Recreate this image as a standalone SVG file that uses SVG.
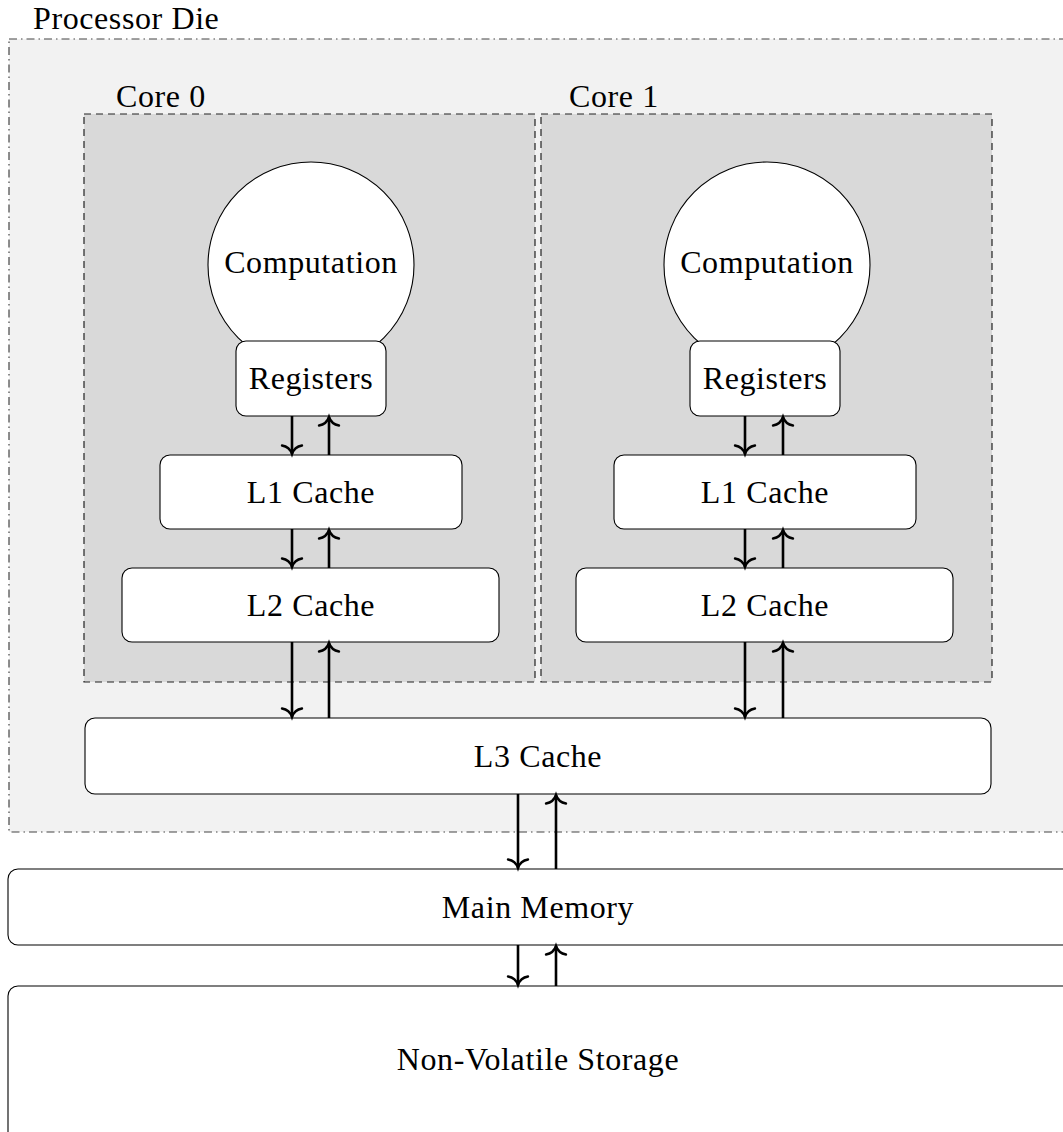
<svg xmlns="http://www.w3.org/2000/svg" width="1063" height="1132" viewBox="0 0 1063 1132" font-family="Liberation Serif, DejaVu Serif, serif">
  <style>
    text { font-family: "Liberation Serif", "DejaVu Serif", serif; }
    .lbl { font-size: 32px; letter-spacing: 0.6px; fill: #000; }
    .mid { text-anchor: middle; }
    .box { fill: #fff; stroke: #000; stroke-width: 1.1; }
    .die { fill: #f2f2f2; stroke: #444; stroke-width: 1.2; stroke-dasharray: 8 4 1.5 4; }
    .core { fill: #d9d9d9; stroke: #222; stroke-width: 1.2; stroke-dasharray: 7 5; }
    .arr { stroke: #000; stroke-width: 2.6; fill: none; marker-end: url(#tip); }
  </style>
  <defs>
    <marker id="tip" markerUnits="userSpaceOnUse" viewBox="-12 -12 24 24" markerWidth="24" markerHeight="24" refX="0" refY="0" orient="auto">
      <path d="M -8.5 -10 C -7.5 -4 -3 -1 0 0 C -3 1 -7.5 4 -8.5 10" fill="none" stroke="#000" stroke-width="2.4" stroke-linecap="round"/>
    </marker>
  </defs>

  <rect width="1063" height="1132" fill="#fff"/>

  <!-- processor die container -->
  <g id="processor-die">
    <rect class="die" x="9" y="39" width="1070" height="793"/>
    <text class="lbl" x="33" y="29" font-family="Liberation Serif">Processor Die</text>
  </g>

  <!-- cores -->
  <g id="core0">
    <rect class="core" x="84" y="114" width="451" height="568"/>
    <text class="lbl" x="116" y="107">Core 0</text>
  </g>
  <g id="core1">
    <rect class="core" x="541" y="114" width="451" height="568"/>
    <text class="lbl" x="569" y="107">Core 1</text>
  </g>

  <g id="computation0">
    <circle class="box" cx="311" cy="265" r="103"/>
    <text class="lbl mid" x="311" y="273">Computation</text>
  </g>
  <g id="registers0">
    <rect class="box" x="236" y="341" width="150" height="75" rx="10"/>
    <text class="lbl mid" x="311" y="389">Registers</text>
  </g>
  <g id="l1-0">
    <rect class="box" x="160" y="455" width="302" height="74" rx="10"/>
    <text class="lbl mid" x="311" y="503">L1 Cache</text>
  </g>
  <g id="l2-0">
    <rect class="box" x="122" y="568" width="377" height="74" rx="10"/>
    <text class="lbl mid" x="311" y="616">L2 Cache</text>
  </g>

  <g id="computation1">
    <circle class="box" cx="767" cy="265" r="103"/>
    <text class="lbl mid" x="767" y="273">Computation</text>
  </g>
  <g id="registers1">
    <rect class="box" x="690" y="341" width="150" height="75" rx="10"/>
    <text class="lbl mid" x="765" y="389">Registers</text>
  </g>
  <g id="l1-1">
    <rect class="box" x="614" y="455" width="302" height="74" rx="10"/>
    <text class="lbl mid" x="765" y="503">L1 Cache</text>
  </g>
  <g id="l2-1">
    <rect class="box" x="576" y="568" width="377" height="74" rx="10"/>
    <text class="lbl mid" x="765" y="616">L2 Cache</text>
  </g>

  <g id="l3">
    <rect class="box" x="85" y="718" width="906" height="76" rx="10"/>
    <text class="lbl mid" x="538" y="767">L3 Cache</text>
  </g>

  <g id="main-memory">
    <rect class="box" x="8" y="869" width="1070" height="76" rx="10"/>
    <text class="lbl mid" x="538" y="918">Main Memory</text>
  </g>

  <g id="storage">
    <rect class="box" x="8" y="986" width="1070" height="170" rx="10"/>
    <text class="lbl mid" x="538" y="1070">Non-Volatile Storage</text>
  </g>

  <!-- data paths: down = fetch, up = write back -->
  <g id="connectors">
    <line class="arr" x1="292" y1="416" x2="292" y2="454"/>
    <line class="arr" x1="329" y1="455" x2="329" y2="417"/>
    <line class="arr" x1="292" y1="529" x2="292" y2="567"/>
    <line class="arr" x1="329" y1="568" x2="329" y2="530"/>
    <line class="arr" x1="292" y1="642" x2="292" y2="717"/>
    <line class="arr" x1="329" y1="718" x2="329" y2="643"/>

    <line class="arr" x1="745" y1="416" x2="745" y2="454"/>
    <line class="arr" x1="783" y1="455" x2="783" y2="417"/>
    <line class="arr" x1="745" y1="529" x2="745" y2="567"/>
    <line class="arr" x1="783" y1="568" x2="783" y2="530"/>
    <line class="arr" x1="745" y1="642" x2="745" y2="717"/>
    <line class="arr" x1="783" y1="718" x2="783" y2="643"/>

    <line class="arr" x1="518" y1="794" x2="518" y2="868"/>
    <line class="arr" x1="556" y1="869" x2="556" y2="795"/>
    <line class="arr" x1="518" y1="945" x2="518" y2="985"/>
    <line class="arr" x1="556" y1="986" x2="556" y2="946"/>
  </g>
</svg>
